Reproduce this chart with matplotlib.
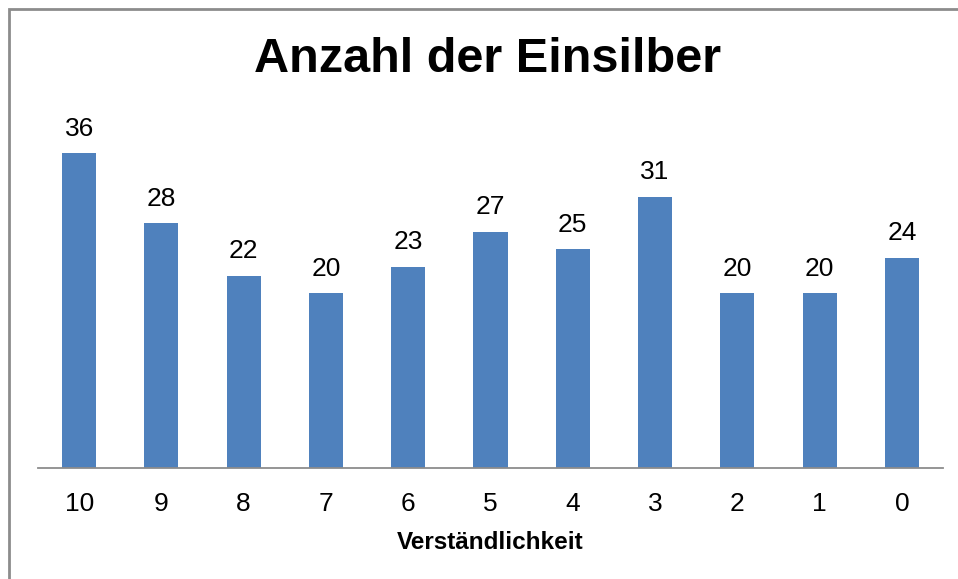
import matplotlib
matplotlib.use("Agg")
import matplotlib.pyplot as plt
from matplotlib.patches import Rectangle

categories = ["10", "9", "8", "7", "6", "5", "4", "3", "2", "1", "0"]
values = [36, 28, 22, 20, 23, 27, 25, 31, 20, 20, 24]

plt.rcParams['font.family'] = ['Liberation Sans', 'DejaVu Sans']

W, H = 958, 579
fig = plt.figure(figsize=(W / 100, H / 100), dpi=100)
fig.patch.set_facecolor("white")

# outer chart frame (only left/top visible in the reference)
fig.patches.append(Rectangle((9 / W, -0.1), 1.2, 1 - 9 / H + 0.1, transform=fig.transFigure,
                             fill=False, edgecolor="#8c8c8c", linewidth=2))

ax = fig.add_axes([38 / W, (H - 468) / H, 905 / W, 350 / H])
x = range(len(categories))
ax.bar(x, values, width=0.415, color="#4F81BD", zorder=2)
for xi, v in zip(x, values):
    ax.annotate(str(v), (xi, v), xytext=(0, 9), textcoords="offset points",
                ha="center", va="bottom", fontsize=19, color="black")

ax.set_xlim(-0.5, len(categories) - 0.5)
ax.set_ylim(0, 40)
ax.set_xticks(list(x))
ax.set_xticklabels(categories, fontsize=19)
ax.tick_params(axis="x", length=0, pad=17)
ax.set_yticks([])
for s in ["top", "right", "left"]:
    ax.spines[s].set_visible(False)
ax.spines["bottom"].set_color("#8c8c8c")
ax.spines["bottom"].set_linewidth(1.3)
ax.set_xlabel("Verständlichkeit", fontsize=17.5, fontweight="bold", labelpad=11)

fig.text(488 / W, 1 - 60 / H, "Anzahl der Einsilber", ha="center", va="center",
         fontsize=35, fontweight="bold")

fig.savefig("out.png", dpi=100)
